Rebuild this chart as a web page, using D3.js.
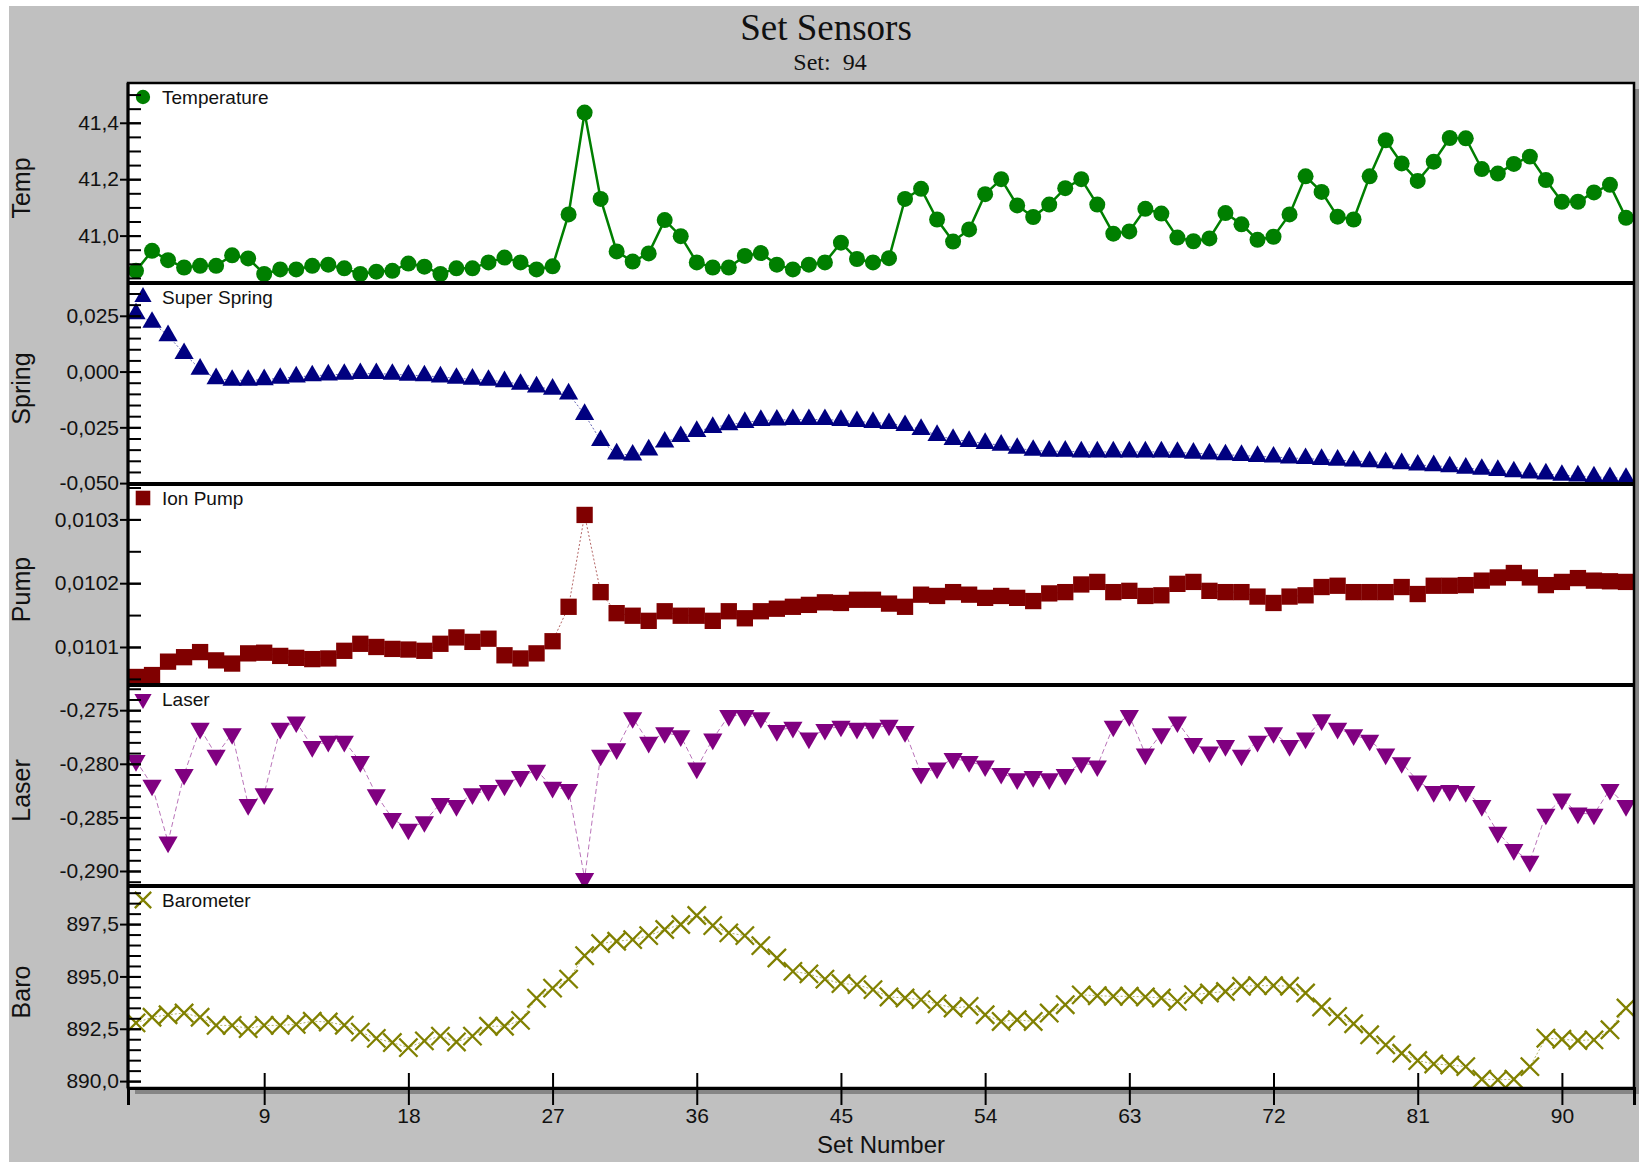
<!DOCTYPE html>
<html>
<head>
<meta charset="utf-8">
<script src="https://cdn.jsdelivr.net/npm/d3@7"></script>
<style>
  html, body { margin: 0; padding: 0; background: #fff; }
  svg { display: block; }
  text { fill: #111; }
</style>
</head>
<body>
<svg id="chart"></svg>
<script>
// ---- data ----
const setNumbers = d3.range(1, 95);

const temperature = [
  40.875, 40.946, 40.913, 40.887, 40.893, 40.893, 40.930, 40.919, 40.864, 40.880,
  40.880, 40.893, 40.897, 40.884, 40.864, 40.872, 40.875, 40.901, 40.890, 40.864,
  40.884, 40.884, 40.905, 40.922, 40.905, 40.880, 40.891, 41.075, 41.436, 41.130,
  40.944, 40.908, 40.937, 41.055, 40.998, 40.905, 40.887, 40.887, 40.928, 40.938,
  40.897, 40.880, 40.897, 40.905, 40.975, 40.917, 40.905, 40.920, 41.130, 41.166,
  41.057, 40.979, 41.022, 41.147, 41.200, 41.107, 41.066, 41.110, 41.168, 41.200,
  41.110, 41.007, 41.015, 41.095, 41.078, 40.993, 40.980, 40.990, 41.080, 41.040,
  40.985, 40.996, 41.075, 41.210, 41.155, 41.067, 41.057, 41.210, 41.338, 41.256,
  41.194, 41.262, 41.346, 41.345, 41.236, 41.220, 41.254, 41.280, 41.197, 41.120,
  41.120, 41.153, 41.180, 41.063
];

const superSpring = [
  0.0259, 0.0221, 0.0161, 0.0081, 0.0011, -0.0032, -0.0039, -0.0039, -0.0036, -0.0030,
  -0.0024, -0.0019, -0.0015, -0.0012, -0.0009, -0.0009, -0.0012, -0.0016, -0.0019, -0.0024,
  -0.0030, -0.0034, -0.0039, -0.0045, -0.0057, -0.0069, -0.0079, -0.0100, -0.0192, -0.0309,
  -0.0369, -0.0374, -0.0351, -0.0316, -0.0291, -0.0268, -0.0250, -0.0238, -0.0228, -0.0219,
  -0.0217, -0.0215, -0.0215, -0.0215, -0.0219, -0.0224, -0.0228, -0.0233, -0.0242, -0.0259,
  -0.0286, -0.0304, -0.0313, -0.0322, -0.0330, -0.0344, -0.0353, -0.0357, -0.0357, -0.0360,
  -0.0360, -0.0360, -0.0360, -0.0360, -0.0360, -0.0362, -0.0366, -0.0369, -0.0373, -0.0376,
  -0.0380, -0.0383, -0.0387, -0.0390, -0.0394, -0.0397, -0.0401, -0.0404, -0.0408, -0.0413,
  -0.0419, -0.0422, -0.0427, -0.0433, -0.0438, -0.0443, -0.0449, -0.0454, -0.0459, -0.0465,
  -0.0468, -0.0472, -0.0475, -0.0479
];

const ionPump = [
  0.010053, 0.010056, 0.010077, 0.010084, 0.010092, 0.010079, 0.010074, 0.010090, 0.010091, 0.010086,
  0.010083, 0.010081, 0.010082, 0.010094, 0.010105, 0.010100, 0.010097, 0.010096, 0.010094, 0.010105,
  0.010115, 0.010108, 0.010113, 0.010087, 0.010082, 0.010090, 0.010109, 0.010163, 0.010307, 0.010186,
  0.010153, 0.010149, 0.010141, 0.010156, 0.010149, 0.010149, 0.010141, 0.010156, 0.010145, 0.010156,
  0.010160, 0.010163, 0.010166, 0.010170, 0.010169, 0.010174, 0.010174, 0.010168, 0.010163, 0.010182,
  0.010180, 0.010186, 0.010182, 0.010177, 0.010180, 0.010177, 0.010172, 0.010184, 0.010186, 0.010198,
  0.010202, 0.010186, 0.010188, 0.010180, 0.010181, 0.010199, 0.010202, 0.010188, 0.010186, 0.010186,
  0.010179, 0.010169, 0.010179, 0.010181, 0.010194, 0.010196, 0.010186, 0.010186, 0.010186, 0.010194,
  0.010183, 0.010196, 0.010196, 0.010197, 0.010204, 0.010209, 0.010216, 0.010209, 0.010197, 0.010202,
  0.010208, 0.010204, 0.010203, 0.010202
];

const laser = [
  -0.2797, -0.2820, -0.2873, -0.2810, -0.2767, -0.2792, -0.2772, -0.2838, -0.2828, -0.2767,
  -0.2761, -0.2784, -0.2779, -0.2779, -0.2798, -0.2829, -0.2851, -0.2861, -0.2854, -0.2837,
  -0.2839, -0.2828, -0.2825, -0.2820, -0.2812, -0.2806, -0.2822, -0.2824, -0.2907, -0.2792,
  -0.2786, -0.2757, -0.2780, -0.2771, -0.2774, -0.2804, -0.2777, -0.2755, -0.2755, -0.2757,
  -0.2769, -0.2766, -0.2776, -0.2768, -0.2765, -0.2767, -0.2767, -0.2764, -0.2770, -0.2809,
  -0.2804, -0.2795, -0.2798, -0.2802, -0.2809, -0.2814, -0.2812, -0.2814, -0.2810, -0.2799,
  -0.2802, -0.2765, -0.2755, -0.2791, -0.2772, -0.2761, -0.2781, -0.2789, -0.2783, -0.2792,
  -0.2779, -0.2771, -0.2783, -0.2776, -0.2759, -0.2767, -0.2773, -0.2778, -0.2791, -0.2799,
  -0.2816, -0.2826, -0.2825, -0.2826, -0.2839, -0.2864, -0.2880, -0.2891, -0.2847, -0.2833,
  -0.2846, -0.2847, -0.2824, -0.2839
];

const barometer = [
  892.78, 893.05, 893.17, 893.25, 893.05, 892.66, 892.66, 892.51, 892.66, 892.66,
  892.71, 892.86, 892.82, 892.67, 892.34, 892.04, 891.84, 891.60, 891.92, 892.15,
  891.87, 892.15, 892.62, 892.62, 892.90, 893.96, 894.44, 894.87, 895.99, 896.57,
  896.68, 896.76, 896.95, 897.24, 897.48, 897.91, 897.43, 897.08, 896.95, 896.47,
  895.88, 895.24, 895.12, 894.87, 894.66, 894.61, 894.37, 894.02, 893.97, 893.89,
  893.69, 893.49, 893.57, 893.17, 892.85, 892.93, 892.85, 893.25, 893.65, 894.12,
  894.08, 894.05, 894.05, 894.02, 893.97, 893.81, 894.13, 894.21, 894.28, 894.53,
  894.56, 894.56, 894.53, 894.21, 893.54, 893.09, 892.74, 892.21, 891.73, 891.33,
  890.98, 890.82, 890.77, 890.69, 890.09, 890.06, 890.09, 890.69, 892.05, 892.00,
  891.94, 891.97, 892.45, 893.49
];

// tick labels
const xTicks = [9, 18, 27, 36, 45, 54, 63, 72, 81, 90];
const tempTicks = [41.0, 41.2, 41.4];
const springTicks = [-0.05, -0.025, 0, 0.025];
const pumpTicks = [0.0101, 0.0102, 0.0103];
const laserTicks = [-0.29, -0.285, -0.28, -0.275];
const baroTicks = [890, 892.5, 895, 897.5];

// ---- layout ----
const W = 1639, H = 1162;
const plotLeft = 128, plotRight = 1634;
const bands = [83, 283, 484, 685, 886, 1088];
const sansFont = '"Liberation Sans", Arial, Helvetica, sans-serif';
const serifFont = '"Liberation Serif", "Times New Roman", serif';

const locale = d3.formatLocale({decimal: ',', thousands: '.', grouping: [3], currency: ['', ''], minus: '-'});

const panels = [
  {label: 'Temp', legend: 'Temperature', values: temperature, domain: [40.832, 41.541],
   ticks: tempTicks, minorStep: 0.05, fmt: '.1f', color: '#007f00',
   symbol: d3.symbolCircle, size: 201, lineWidth: 2.5, dash: null, lineOpacity: 1},
  {label: 'Spring', legend: 'Super Spring', values: superSpring, domain: [-0.0504, 0.0397],
   ticks: springTicks, minorStep: 0.005, fmt: '.3f', color: '#000080',
   symbol: d3.symbolTriangle, size: 160, lineWidth: 1, dash: '2,2', lineOpacity: 0.6},
  {label: 'Pump', legend: 'Ion Pump', values: ionPump, domain: [0.0100404, 0.0103555],
   ticks: pumpTicks, minorStep: 0.00005, fmt: '.4f', color: '#800000',
   symbol: d3.symbolSquare, size: 266, lineWidth: 1, dash: '2,2', lineOpacity: 0.6},
  {label: 'Laser', legend: 'Laser', values: laser, domain: [-0.2914, -0.27265],
   ticks: laserTicks, minorStep: 0.001, fmt: '.3f', color: '#800080',
   symbol: d3.symbolTriangle, size: 160, flip: true, lineWidth: 1, dash: '5,3', lineOpacity: 0.55},
  {label: 'Baro', legend: 'Barometer', values: barometer, domain: [889.67, 899.32],
   ticks: baroTicks, minorStep: 0.5, fmt: '.1f', color: '#808000',
   symbol: d3.symbolTimes, size: 220, stroked: true, lineWidth: 1, dash: '2,2', lineOpacity: 0.6}
];

const svg = d3.select('#chart').attr('width', W).attr('height', H);

// grey background (thin white strip at top and left like the original)
svg.append('rect').attr('x', 9).attr('y', 6).attr('width', W - 9).attr('height', H - 6)
  .attr('fill', '#c0c0c0');

// titles
svg.append('text').attr('x', 826).attr('y', 40).attr('text-anchor', 'middle')
  .style('font-family', serifFont).style('font-size', '37px').text('Set Sensors');
svg.append('text').attr('x', 830).attr('y', 70).attr('text-anchor', 'middle')
  .style('font-family', serifFont).style('font-size', '24px').style('white-space', 'pre')
  .text('Set:  94');

const x = d3.scaleLinear().domain([0.5, 94.5]).range([plotLeft, plotRight]);

// drop shadow behind the whole plot block
svg.append('rect').attr('x', plotLeft + 7).attr('y', bands[0] + 6)
  .attr('width', plotRight - plotLeft).attr('height', bands[5] - bands[0])
  .attr('fill', '#858585');

const defs = svg.append('defs');

panels.forEach((p, k) => {
  const top = bands[k], bottom = bands[k + 1];
  const y = d3.scaleLinear().domain(p.domain).range([bottom, top]);
  const g = svg.append('g').attr('class', 'panel');

  g.append('rect').attr('x', plotLeft).attr('y', top)
    .attr('width', plotRight - plotLeft).attr('height', bottom - top).attr('fill', '#fff');

  defs.append('clipPath').attr('id', 'clip' + k).append('rect')
    .attr('x', plotLeft).attr('y', top)
    .attr('width', plotRight - plotLeft).attr('height', bottom - top);

  const plot = g.append('g').attr('clip-path', `url(#clip${k})`);

  // connecting line
  const line = d3.line().x((d, i) => x(setNumbers[i])).y(d => y(d));
  plot.append('path').datum(p.values)
    .attr('d', line)
    .attr('fill', 'none')
    .attr('stroke', p.color)
    .attr('stroke-width', p.lineWidth)
    .attr('stroke-opacity', p.lineOpacity)
    .attr('stroke-dasharray', p.dash);

  // markers
  const sym = d3.symbol(p.symbol, p.size)();
  const marks = plot.selectAll('path.mark').data(p.values).join('path')
    .attr('class', 'mark')
    .attr('d', sym)
    .attr('transform', (d, i) => `translate(${x(setNumbers[i])},${y(d)})` + (p.flip ? ' rotate(180)' : ''));
  if (p.stroked) {
    marks.attr('fill', 'none').attr('stroke', p.color).attr('stroke-width', 2.3);
  } else {
    marks.attr('fill', p.color);
  }

  // legend
  const lg = g.append('g').attr('transform', `translate(143,${top + 14})`);
  const lm = lg.append('path').attr('d', d3.symbol(p.symbol, p.size * 0.8)())
    .attr('transform', p.flip ? 'rotate(180)' : null);
  if (p.stroked) lm.attr('fill', 'none').attr('stroke', p.color).attr('stroke-width', 2.3);
  else lm.attr('fill', p.color);
  lg.append('text').attr('x', 19).attr('y', 6.5)
    .style('font-family', sansFont).style('font-size', '19px').text(p.legend);

  // minor ticks
  const lo = Math.ceil(p.domain[0] / p.minorStep - 1e-9);
  const hi = Math.floor(p.domain[1] / p.minorStep + 1e-9);
  const minors = d3.range(lo, hi + 1).map(n => n * p.minorStep);
  const minorAxis = d3.axisLeft(y).tickValues(minors).tickSize(-13).tickFormat('');
  const gm = svg.append('g').attr('transform', `translate(${plotLeft},0)`).call(minorAxis);
  gm.select('.domain').remove();
  gm.selectAll('.tick line').attr('stroke', '#000').attr('stroke-width', 2);

  // major ticks (cross the axis line)
  const yAxis = d3.axisLeft(y).tickValues(p.ticks).tickSize(8).tickPadding(1)
    .tickFormat(locale.format(p.fmt));
  const ga = svg.append('g').attr('transform', `translate(${plotLeft},0)`).call(yAxis);
  ga.select('.domain').remove();
  ga.selectAll('.tick line').attr('x1', 13).attr('stroke', '#000').attr('stroke-width', 2);
  ga.selectAll('.tick text').style('font-family', sansFont).style('font-size', '21px').attr('fill', '#111');

  // axis title
  svg.append('text')
    .attr('transform', `translate(30,${(top + bottom) / 2 + 5}) rotate(-90)`)
    .attr('text-anchor', 'middle')
    .style('font-family', sansFont).style('font-size', '25px')
    .text(p.label);
});

// frame
svg.append('rect').attr('x', plotLeft).attr('y', bands[0])
  .attr('width', plotRight - plotLeft).attr('height', bands[5] - bands[0])
  .attr('fill', 'none').attr('stroke', '#000').attr('stroke-width', 2.5);
bands.slice(1, 5).forEach(b => {
  svg.append('line').attr('x1', plotLeft).attr('x2', plotRight).attr('y1', b).attr('y2', b)
    .attr('stroke', '#000').attr('stroke-width', 4);
});
svg.append('line').attr('x1', plotLeft).attr('x2', plotLeft).attr('y1', bands[0]).attr('y2', bands[5])
  .attr('stroke', '#000').attr('stroke-width', 3);

// x axis
const xAxis = d3.axisBottom(x).tickValues(xTicks).tickSize(17).tickPadding(3);
const gx = svg.append('g').attr('transform', `translate(0,${bands[5]})`).call(xAxis);
gx.select('.domain').attr('stroke', '#000').attr('stroke-width', 3);
gx.selectAll('.tick line').attr('y1', -15).attr('stroke', '#000').attr('stroke-width', 2);
gx.selectAll('.tick text').style('font-family', sansFont).style('font-size', '21px').attr('fill', '#111');

svg.append('text').attr('x', (plotLeft + plotRight) / 2).attr('y', 1153).attr('text-anchor', 'middle')
  .style('font-family', sansFont).style('font-size', '24px').text('Set Number');
</script>
</body>
</html>
